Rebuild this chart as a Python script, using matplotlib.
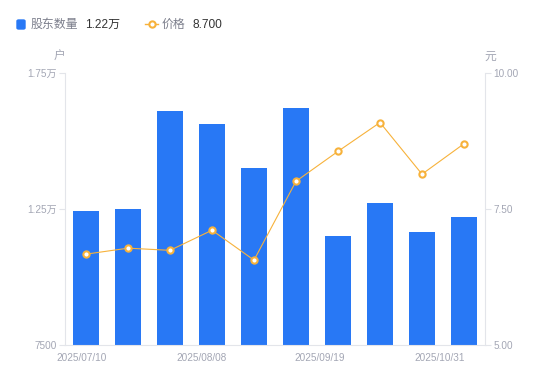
import numpy as np
import matplotlib.pyplot as plt
from matplotlib.patches import FancyBboxPatch
from matplotlib.lines import Line2D

plt.rcParams['font.family'] = ['Liberation Sans', 'Noto Sans CJK SC', 'DejaVu Sans']

# ---------------------------- dados ----------------------------
holders = [12426, 12500, 16114, 15636, 13996, 16202, 11507, 12710, 11665, 12195]
price = [6.67, 6.78, 6.74, 7.11, 6.56, 8.01, 8.56, 9.09, 8.14, 8.70]
xlabels = ['2025/07/10', '2025/08/08', '2025/09/19', '2025/10/31']
xlabel_pos = [-0.1, 2.74, 5.57, 8.43]
left_ticks = [7500, 12500, 17500]
left_labels = ['7500', '1.25万', '1.75万']
right_ticks = [5.0, 7.5, 10.0]
right_labels = ['5.00', '7.50', '10.00']

blue = '#2878f5'
orange = '#f7b23b'
axis_c = '#e3e5ea'
label_c = '#a3a6b4'

fig = plt.figure(figsize=(5.5, 3.81), dpi=100)
ax = fig.add_axes([65 / 550, 1 - 345 / 381, 420 / 550, 272 / 381])
ax2 = ax.twinx()

x = np.arange(len(holders))
ax.bar(x, holders, width=0.6, color=blue, zorder=2)
ax.set_xlim(-0.5, len(holders) - 0.5)
ax.set_ylim(7500, 17500)
ax.set_yticks(left_ticks)
ax.set_yticklabels(left_labels)

ax2.plot(x, price, color=orange, lw=0.8, marker='o', ms=4.5, mfc='white',
         mec=orange, mew=1.5, zorder=3)
ax2.set_ylim(5, 10)
ax2.set_yticks(right_ticks)
ax2.set_yticklabels(right_labels)

ax.set_xticks(xlabel_pos)
ax.set_xticklabels(xlabels)

for a in (ax, ax2):
    for s in a.spines.values():
        s.set_visible(False)
    a.tick_params(colors=label_c, labelsize=7.2, length=4, width=0.8, color=axis_c, pad=2)
ax.tick_params(axis='x', length=0, pad=6)
ax.spines['left'].set_visible(True)
ax.spines['left'].set_color(axis_c)
ax.spines['bottom'].set_visible(True)
ax.spines['bottom'].set_color(axis_c)
ax2.spines['right'].set_visible(True)
ax2.spines['right'].set_color(axis_c)

fig.text(59 / 550, 1 - 57 / 381, '户', color=label_c, fontsize=8.5, ha='center', va='center')
fig.text(490 / 550, 1 - 57 / 381, '元', color=label_c, fontsize=8.5, ha='center', va='center')

# legenda
fig.patches.append(FancyBboxPatch((17 / 550, 1 - 29 / 381), 8 / 550, 9 / 381,
                                  boxstyle='round,pad=0,rounding_size=0.003',
                                  transform=fig.transFigure, color=blue))
fig.text(31 / 550, 1 - 24.5 / 381, '股东数量', color='#7c7f8c', fontsize=8.6, va='center')
fig.text(85 / 550, 1 - 24.5 / 381, '1.22万', color='#333333', fontsize=8.6, va='center')
fig.lines.append(Line2D([145 / 550, 158 / 550], [1 - 24 / 381, 1 - 24 / 381],
                        transform=fig.transFigure, color=orange, lw=1))
fig.lines.append(Line2D([151.5 / 550], [1 - 24 / 381], transform=fig.transFigure,
                        marker='o', ms=4.5, mfc='white', mec=orange, mew=1.5))
fig.text(162 / 550, 1 - 24.5 / 381, '价格', color='#7c7f8c', fontsize=8.6, va='center')
fig.text(192 / 550, 1 - 24.5 / 381, '8.700', color='#333333', fontsize=8.6, va='center')

fig.savefig('out.png', dpi=100)
